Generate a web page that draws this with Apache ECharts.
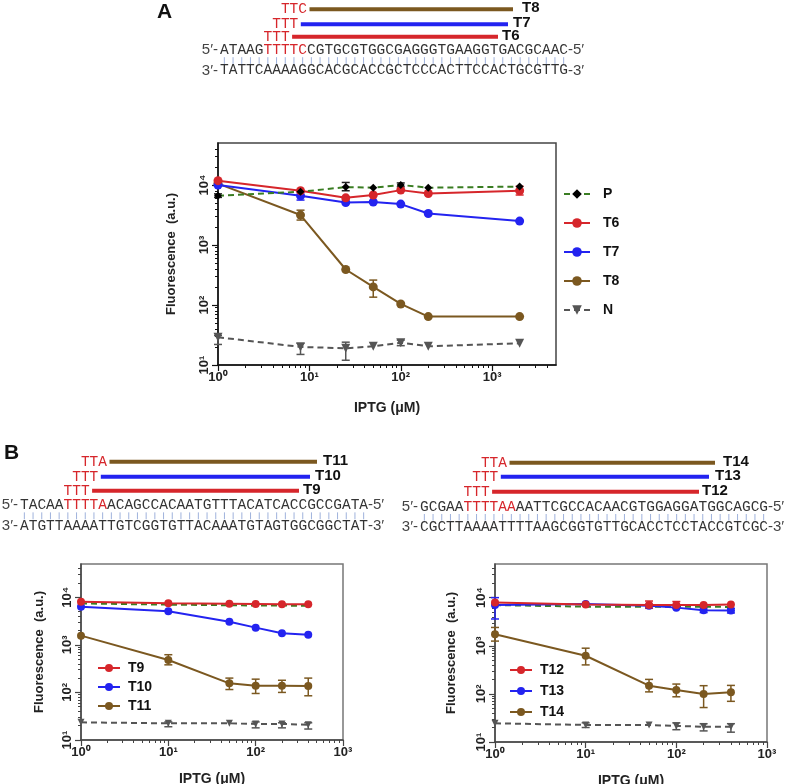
<!DOCTYPE html>
<html>
<head>
<meta charset="utf-8">
<script src="https://cdn.jsdelivr.net/npm/echarts@6/dist/echarts.min.js"></script>
<style>
html, body { margin: 0; padding: 0; background: #fff; }
#chart { width: 789px; height: 784px; }
</style>
</head>
<body>
<div id="chart"></div>
<script>
// ---- panel A data ----
const iptgA = [1, 8, 25, 50, 100, 200, 2000]
const pA = [6600, 7700, 9200, 9000, 10000, 9000, 9400]
const t6A = [11800, 8000, 6100, 6800, 8200, 7200, 8000]
const t7A = [10000, 6600, 5100, 5200, 4800, 3350, 2500]
const t8A = [10500, 3150, 390, 200, 104, 64, 64]
const nA = [29, 20, 19, 20.5, 23.5, 20.5, 23]
// error bars: [x, low, high]
const errPA = [[1, 6200, 7100], [25, 8000, 11000], [100, 9300, 10800]]
const errT6A = [[2000, 6800, 9500]]
const errT7A = [[8, 5600, 7700]]
const errT8A = [[8, 2600, 3800], [50, 135, 260]]
const errNA = [[1, 22, 31], [8, 15, 23], [25, 12, 24], [100, 21, 26]]

// ---- panel B data ----
const iptgB = [1, 10, 50, 100, 200, 400]
const pB1 = [7400, 7000, 6800, 6700, 6700, 6600]
const t9B = [8000, 7500, 7300, 7200, 7100, 7100]
const t10B = [6300, 5100, 3050, 2300, 1750, 1620]
const t11B = [1560, 480, 155, 138, 138, 137]
const nB1 = [23.5, 22.4, 22.4, 21.7, 21.7, 21]
const errT11B = [[10, 380, 620], [50, 115, 200], [100, 95, 190], [200, 100, 180], [400, 85, 200]]
const errNB1 = [[10, 19, 24], [100, 18, 24], [200, 18, 23], [400, 17, 23]]

const pB2 = [7000, 6500, 6500, 6500, 6500, 6400]
const t12B = [7900, 7200, 7000, 7000, 7000, 7200]
const t13B = [7000, 7400, 6800, 6200, 5500, 5400]
const t14B = [1740, 620, 148, 120, 99, 108]
const nB2 = [24.5, 22.6, 22.6, 21.5, 20.8, 20.8]
const errT12B = [[50, 6000, 8500], [100, 6000, 8300]]
const errT13B = [[1, 3600, 10000], [200, 4900, 6200], [400, 4800, 6000]]
const errT14B = [[1, 1250, 2400], [10, 400, 890], [50, 110, 200], [100, 87, 160], [200, 52, 148], [400, 70, 150]]
const errNB2 = [[10, 20, 25], [100, 18, 25], [200, 17, 24], [400, 16, 24]]

// tick labels
const xTicksA = [1, 10, 100, 1000]
const xTicksB = [1, 10, 100, 1000]
const yTicks = [10, 100, 1000, 10000]

// ---- sequences ----
const seqATop = [['ATAAG', 0], ['TTTTC', 1], ['CGTGCGTGGCGAGGGTGAAGGTGACGCAAC', 0]]
const seqABot = 'TATTCAAAAGGCACGCACCGCTCCCACTTCCACTGCGTTG'
const seqB1Top = [['TACAA', 0], ['TTTTA', 1], ['ACAGCCACAATGTTTACATCACCGCCGATA', 0]]
const seqB1Bot = 'ATGTTAAAATTGTCGGTGTTACAAATGTAGTGGCGGCTAT'
const seqB2Top = [['GCGAA', 0], ['TTTTAA', 1], ['AATTCGCCACAACGTGGAGGATGGCAGCG', 0]]
const seqB2Bot = 'CGCTTAAAATTTTAAGCGGTGTTGCACCTCCTACCGTCGC'

const RED = '#d6262b'
const BLUE = '#2323f0'
const BROWN = '#7b5820'
const GREEN = '#3a7d22'
const GRAY = '#555'
const SANS = '"Liberation Sans", Arial, sans-serif'
const MONO = '"Liberation Mono", "Courier New", monospace'
const CW = 8.7

const SUP = ['⁰', '¹', '²', '³', '⁴', '⁵']
const powLabel = (v) => '10' + SUP[Math.round(Math.log10(v))]

// minor ticks 2..9 per decade
const minorTicks = (min, max) => {
  const out = []
  for (let d = 1; d <= max; d *= 10) {
    for (let m = 2; m <= 9; m++) {
      const v = m * d
      if (v > min && v < max) out.push(v)
    }
  }
  return out
}

const labelStyle = { fontFamily: SANS, fontSize: 13, fontWeight: 'bold', color: '#222' }
const nameStyle = { fontFamily: SANS, fontSize: 14, fontWeight: 'bold', color: '#222' }

function axisPair(dim, grid, min, max, majors, lineColor, name, nameGap) {
  const isY = dim === 'y'
  const main = {
    type: 'log', gridIndex: grid, min, max, logBase: 10,
    position: isY ? 'left' : 'bottom',
    axisLine: { show: true, onZero: false, lineStyle: { color: lineColor, width: 1.5 } },
    axisTick: { show: true, customValues: majors, length: 6, lineStyle: { color: lineColor, width: 1.2 } },
    axisLabel: { customValues: majors, formatter: powLabel, rotate: isY ? 90 : 0, margin: isY ? 7 : 6, ...labelStyle },
    splitLine: { show: false },
    name, nameLocation: 'middle', nameGap,
    nameTextStyle: isY ? { ...nameStyle, fontSize: 13 } : nameStyle,
  }
  const minor = {
    type: 'log', gridIndex: grid, min, max, logBase: 10,
    position: isY ? 'left' : 'bottom',
    axisLine: { show: false },
    axisTick: { show: true, customValues: minorTicks(min, max), length: 3, lineStyle: { color: lineColor, width: 1 } },
    axisLabel: { show: false },
    splitLine: { show: false },
  }
  return [main, minor]
}

const xAxes = [
  ...axisPair('x', 0, 1, 5000, xTicksA, '#111', 'IPTG (μM)', 36),
  ...axisPair('x', 1, 1, 1000, xTicksB, '#444', 'IPTG (μM)', 32),
  ...axisPair('x', 2, 1, 1000, xTicksB, '#444', 'IPTG (μM)', 32),
]
const yAxes = [
  ...axisPair('y', 0, 10, 50000, yTicks, '#111', 'Fluorescence  (a.u.)', 40),
  ...axisPair('y', 1, 10, 50000, yTicks, '#444', 'Fluorescence  (a.u.)', 35),
  ...axisPair('y', 2, 10, 50000, yTicks, '#444', 'Fluorescence  (a.u.)', 37),
]

const pts = (xs, ys) => xs.map((x, i) => [x, ys[i]])

function lineSeries(name, xs, ys, color, axis, opts = {}) {
  return {
    name, type: 'line', xAxisIndex: axis, yAxisIndex: axis,
    data: pts(xs, ys),
    symbol: opts.symbol || 'circle',
    symbolSize: opts.size || 9,
    symbolRotate: opts.rotate || 0,
    lineStyle: { color, width: 2, type: opts.dashed ? [6, 4] : 'solid' },
    itemStyle: { color: opts.markColor || color },
    z: 3,
  }
}

function errSeries(data, color, axis) {
  return {
    type: 'custom', xAxisIndex: axis, yAxisIndex: axis, silent: true, z: 2,
    data, encode: { x: 0, y: [1, 2] },
    renderItem: (params, api) => {
      const x = api.value(0)
      const lo = api.coord([x, api.value(1)])
      const hi = api.coord([x, api.value(2)])
      const w = 4
      const st = { stroke: color, lineWidth: 1.5 }
      return {
        type: 'group',
        children: [
          { type: 'line', shape: { x1: lo[0], y1: lo[1], x2: hi[0], y2: hi[1] }, style: st },
          { type: 'line', shape: { x1: lo[0] - w, y1: lo[1], x2: lo[0] + w, y2: lo[1] }, style: st },
          { type: 'line', shape: { x1: hi[0] - w, y1: hi[1], x2: hi[0] + w, y2: hi[1] }, style: st },
        ],
      }
    },
  }
}

const series = [
  // panel A  (main axes index 0)
  lineSeries('T8', iptgA, t8A, BROWN, 0),
  lineSeries('T7', iptgA, t7A, BLUE, 0),
  lineSeries('T6', iptgA, t6A, RED, 0),
  lineSeries('P', iptgA, pA, GREEN, 0, { dashed: true, symbol: 'diamond', size: 8, markColor: '#000' }),
  lineSeries('N', iptgA, nA, GRAY, 0, { dashed: true, symbol: 'triangle', size: 9, rotate: 180 }),
  errSeries(errT8A, BROWN, 0),
  errSeries(errT7A, BLUE, 0),
  errSeries(errT6A, RED, 0),
  errSeries(errPA, '#222', 0),
  errSeries(errNA, GRAY, 0),
  // panel B left (index 2)
  lineSeries('P', iptgB, pB1, GREEN, 2, { dashed: true, symbol: 'none' }),
  lineSeries('N', iptgB, nB1, GRAY, 2, { dashed: true, symbol: 'triangle', size: 7, rotate: 180 }),
  lineSeries('T11', iptgB, t11B, BROWN, 2, { size: 8 }),
  lineSeries('T10', iptgB, t10B, BLUE, 2, { size: 8 }),
  lineSeries('T9', iptgB, t9B, RED, 2, { size: 8 }),
  errSeries(errT11B, BROWN, 2),
  errSeries(errNB1, GRAY, 2),
  // panel B right (index 4)
  lineSeries('P', iptgB, pB2, GREEN, 4, { dashed: true, symbol: 'none' }),
  lineSeries('N', iptgB, nB2, GRAY, 4, { dashed: true, symbol: 'triangle', size: 7, rotate: 180 }),
  lineSeries('T14', iptgB, t14B, BROWN, 4, { size: 8 }),
  lineSeries('T13', iptgB, t13B, BLUE, 4, { size: 8 }),
  lineSeries('T12', iptgB, t12B, RED, 4, { size: 8 }),
  errSeries(errT14B, BROWN, 4),
  errSeries(errT13B, BLUE, 4),
  errSeries(errT12B, RED, 4),
  errSeries(errNB2, GRAY, 4),
]

const legendText = { fontFamily: SANS, fontSize: 14, fontWeight: 'bold', color: '#111' }

// ---- DNA diagrams ----
function txt(x, y, text, fill, font, align) {
  return {
    type: 'text', x, y, silent: true,
    style: { text, fill, font, align: align || 'left', verticalAlign: 'middle', textAlign: align || 'left', textVerticalAlign: 'middle' },
  }
}

function duplex(x0, yTop, yBot, topParts, bottom, primers) {
  const els = []
  const mono = '14.5px ' + MONO
  const sans = '15px ' + SANS
  els.push(txt(x0 - 2, yTop, '5′-', '#444', sans, 'right'))
  let off = 0
  topParts.forEach(([s, hl]) => {
    els.push(txt(x0 + off * CW, yTop, s, hl ? RED : '#333', mono))
    off += s.length
  })
  els.push(txt(x0 + off * CW, yTop, '-5′', '#444', sans))
  els.push(txt(x0 - 2, yBot, '3′-', '#444', sans, 'right'))
  els.push(txt(x0, yBot, bottom, '#333', mono))
  els.push(txt(x0 + bottom.length * CW, yBot, '-3′', '#444', sans))
  const y1 = yTop + (yBot - yTop) * 0.35
  const y2 = yTop + (yBot - yTop) * 0.68
  for (let i = 0; i < bottom.length; i++) {
    const x = x0 + (i + 0.5) * CW
    els.push({ type: 'line', silent: true, shape: { x1: x, y1, x2: x, y2 }, style: { stroke: '#9fb2dc', lineWidth: 1 } })
  }
  primers.forEach((p) => {
    const tx = x0 + p.at * CW
    els.push(txt(tx, p.y, p.tag, RED, mono))
    const bx = tx + 3 * CW + 2.5
    els.push({ type: 'rect', silent: true, shape: { x: bx, y: p.y - 2, width: p.end - bx, height: 4 }, style: { fill: p.color } })
    els.push(txt(p.labelX, p.y - 1, p.label, '#111', 'bold 15px ' + SANS))
  })
  return els
}

const graphic = [
  txt(157, 12, 'A', '#111', 'bold 21px ' + SANS),
  txt(4, 453, 'B', '#111', 'bold 21px ' + SANS),
  ...duplex(220, 50, 70.5, seqATop, seqABot, [
    { tag: 'TTC', at: 7, y: 9.3, end: 513, labelX: 522, label: 'T8', color: BROWN },
    { tag: 'TTT', at: 6, y: 24.3, end: 508, labelX: 513, label: 'T7', color: BLUE },
    { tag: 'TTT', at: 5, y: 36.7, end: 498, labelX: 502, label: 'T6', color: RED },
  ]),
  ...duplex(20, 505, 526, seqB1Top, seqB1Bot, [
    { tag: 'TTA', at: 7, y: 461.7, end: 317, labelX: 323, label: 'T11', color: BROWN },
    { tag: 'TTT', at: 6, y: 476.7, end: 310, labelX: 315, label: 'T10', color: BLUE },
    { tag: 'TTT', at: 5, y: 490.7, end: 299, labelX: 303, label: 'T9', color: RED },
  ]),
  ...duplex(420, 507, 527, seqB2Top, seqB2Bot, [
    { tag: 'TTA', at: 7, y: 462.7, end: 715, labelX: 723, label: 'T14', color: BROWN },
    { tag: 'TTT', at: 6, y: 476.7, end: 709, labelX: 715, label: 'T13', color: BLUE },
    { tag: 'TTT', at: 5, y: 491.7, end: 699, labelX: 702, label: 'T12', color: RED },
  ]),
]

const chart = echarts.init(document.getElementById('chart'), null, { renderer: 'canvas' })
chart.setOption({
  animation: false,
  backgroundColor: '#fff',
  grid: [
    { left: 218, top: 143, width: 338, height: 222, show: true, borderColor: '#444', borderWidth: 1.5, outerBoundsMode: 'none' },
    { left: 81, top: 564, width: 262, height: 176, show: true, borderColor: '#777', borderWidth: 1.5, outerBoundsMode: 'none' },
    { left: 495, top: 564, width: 272, height: 178, show: true, borderColor: '#777', borderWidth: 1.5, outerBoundsMode: 'none' },
  ],
  xAxis: xAxes,
  yAxis: yAxes,
  legend: [
    { data: ['P', 'T6', 'T7', 'T8', 'N'], orient: 'vertical', left: 558, top: 182, itemWidth: 26, itemHeight: 12, itemGap: 15, selectedMode: false, textStyle: { ...legendText, padding: [0, 0, 0, 8] } },
    { data: ['T9', 'T10', 'T11'], orient: 'vertical', left: 92, top: 656, itemWidth: 22, itemHeight: 10, itemGap: 5, selectedMode: false, textStyle: { ...legendText, padding: [0, 0, 0, 3] } },
    { data: ['T12', 'T13', 'T14'], orient: 'vertical', left: 504, top: 658, itemWidth: 22, itemHeight: 10, itemGap: 7, selectedMode: false, textStyle: { ...legendText, padding: [0, 0, 0, 3] } },
  ],
  series,
  graphic,
})
</script>
</body>
</html>
